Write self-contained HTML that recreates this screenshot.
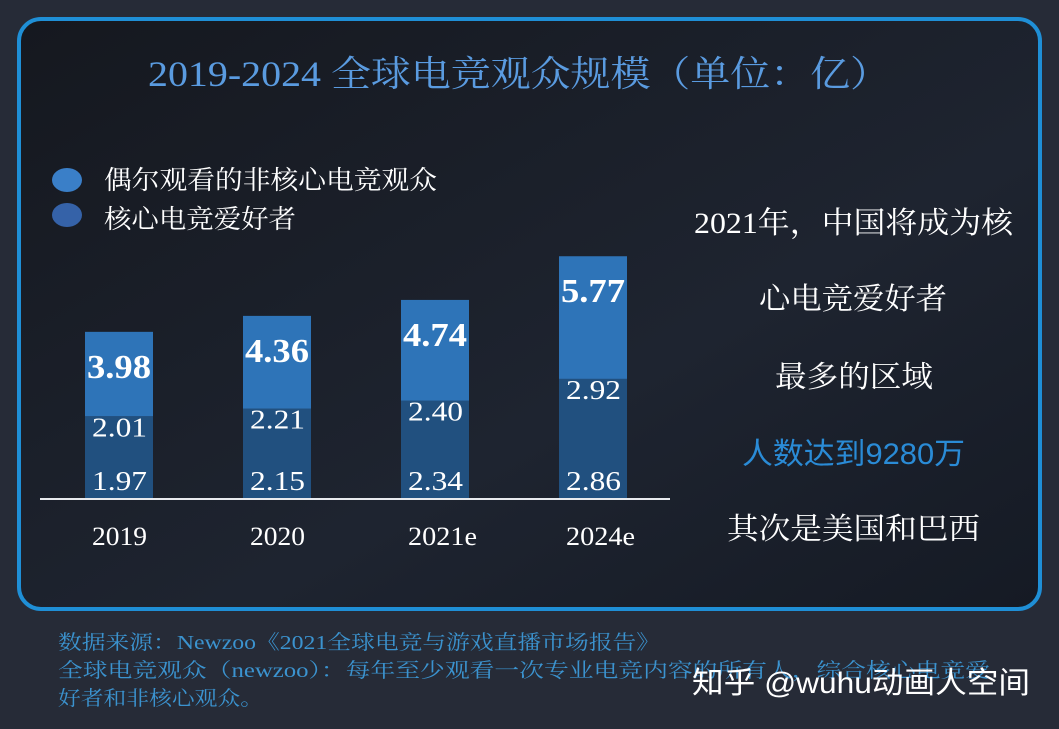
<!DOCTYPE html>
<html><head><meta charset="utf-8">
<style>
html,body{margin:0;padding:0;width:1059px;height:729px;overflow:hidden;background:#262b37;}
.serif{font-family:"Liberation Serif","Noto Serif CJK SC",serif;}
</style></head>
<body>
<svg width="1059" height="729" xmlns="http://www.w3.org/2000/svg">
<defs>
<linearGradient id="bg" x1="0" y1="0" x2="1" y2="1">
<stop offset="0" stop-color="#15181f"/><stop offset="0.6" stop-color="#1e2430"/><stop offset="1" stop-color="#151a24"/>
</linearGradient>
</defs>
<rect x="0" y="0" width="1059" height="729" fill="#262b37"/>
<rect x="19" y="19" width="1021" height="590" rx="22" fill="url(#bg)" stroke="#1f8fd6" stroke-width="4"/>
<text x="148" y="86" textLength="742" lengthAdjust="spacingAndGlyphs" class="serif" font-size="36" fill="#5a9be0">2019-2024 全球电竞观众规模（单位：亿）</text>
<ellipse cx="67" cy="180" rx="15" ry="12" fill="#3a7fc8"/>
<text x="104" y="189" textLength="333" lengthAdjust="spacingAndGlyphs" class="serif" font-size="26" fill="#fff">偶尔观看的非核心电竞观众</text>
<ellipse cx="67" cy="215" rx="15" ry="12" fill="#3562a8"/>
<text x="104" y="228" textLength="192" lengthAdjust="spacingAndGlyphs" class="serif" font-size="26" fill="#fff">核心电竞爱好者</text>
<g id="bars"></g>
<line x1="40" y1="499" x2="670" y2="499" stroke="#e8eaee" stroke-width="2"/>
<g class="serif" font-size="30" fill="#fff">
<text x="694" y="233" textLength="319" lengthAdjust="spacingAndGlyphs">2021年，中国将成为核</text>
<text x="759" y="309" textLength="188" lengthAdjust="spacingAndGlyphs">心电竞爱好者</text>
<text x="775" y="387" textLength="158" lengthAdjust="spacingAndGlyphs">最多的区域</text>
<text x="742" y="464" textLength="223" lengthAdjust="spacingAndGlyphs" fill="#2a8bd6" font-family="'Liberation Sans','Noto Sans CJK SC',sans-serif">人数达到9280万</text>
<text x="727" y="539" textLength="253" lengthAdjust="spacingAndGlyphs">其次是美国和巴西</text>
</g>
<g class="serif" font-size="20" fill="#3b93cf">
<text x="58" y="649" textLength="602" lengthAdjust="spacingAndGlyphs">数据来源：Newzoo《2021全球电竞与游戏直播市场报告》</text>
<text x="58" y="677" textLength="932" lengthAdjust="spacingAndGlyphs">全球电竞观众（newzoo）：每年至少观看一次专业电竞内容的所有人，综合核心电竞爱</text>
<text x="58" y="705" textLength="205" lengthAdjust="spacingAndGlyphs">好者和非核心观众。</text>
</g>
<text x="692" y="693" textLength="338" lengthAdjust="spacingAndGlyphs" font-family="'Liberation Sans','Noto Sans CJK SC',sans-serif" font-size="30" fill="#fff">知乎 @wuhu动画人空间</text>
</svg>
<script>
const categories = ["2019","2020","2021e","2024e"];
const coreValues = [1.97,2.15,2.34,2.86];
const casualValues = [2.01,2.21,2.40,2.92];
const totalLabels = ["3.98","4.36","4.74","5.77"];
const NS="http://www.w3.org/2000/svg";
const g=document.getElementById('bars');
const baseY=499, pxPerUnit=42, x0=85, step=158, barW=68;
function yScale(v){return baseY - v*pxPerUnit;}
function xScale(i){return x0 + i*step;}
function mk(tag,attrs){const e=document.createElementNS(NS,tag);for(const k in attrs)e.setAttribute(k,attrs[k]);g.appendChild(e);return e;}
categories.forEach((c,i)=>{
  const x=xScale(i), core=coreValues[i], cas=casualValues[i];
  const total=core+cas;
  const r1=mk('rect',{x:x,y:yScale(core),width:barW,height:core*pxPerUnit,fill:'#21507f'});
  
  
  const r2=mk('rect',{x:x,y:yScale(total),width:barW,height:cas*pxPerUnit,fill:'#2e74b8'});
  
  
  const cx=x+barW/2;
  const t1=mk('text',{x:cx-27,y:baseY-9,textLength:55,lengthAdjust:'spacingAndGlyphs','font-size':27,fill:'#fff','font-family':'Liberation Serif,serif'});
  t1.textContent=core.toFixed(2);
  
  
  const t2=mk('text',{x:cx-27,y:yScale(core)+20,textLength:55,lengthAdjust:'spacingAndGlyphs','font-size':27,fill:'#fff','font-family':'Liberation Serif,serif'});
  t2.textContent=cas.toFixed(2);
  
  
  const t3=mk('text',{x:cx-32,y:yScale(total)+46,textLength:64,lengthAdjust:'spacingAndGlyphs','font-size':34,'font-weight':'bold',fill:'#fff','font-family':'Liberation Serif,serif'});
  t3.textContent=totalLabels[i];
  
  
  const t4=mk('text',{x:cx-27,y:545,textLength:c.length>4?69:55,lengthAdjust:'spacingAndGlyphs','font-size':26,fill:'#fff','font-family':'Liberation Serif,serif'});
  t4.textContent=c;
  
  
});
</script>
</body></html>
